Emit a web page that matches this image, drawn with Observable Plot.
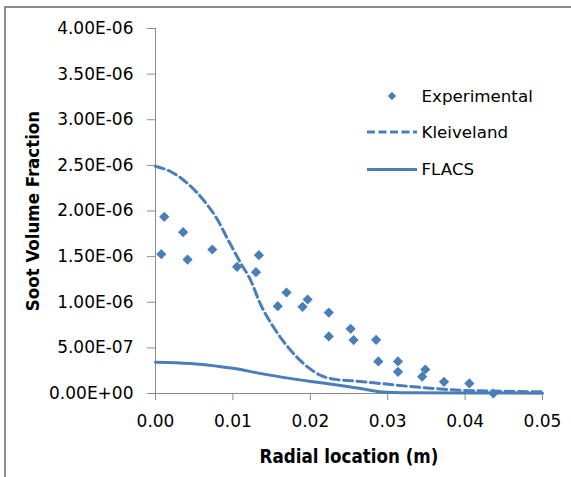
<!DOCTYPE html>
<html>
<head>
<meta charset="utf-8">
<script src="https://cdn.jsdelivr.net/npm/d3@7"></script>
<script src="https://cdn.jsdelivr.net/npm/@observablehq/plot@0.6"></script>
<style>
  html, body { margin: 0; padding: 0; background: #fff; }
  #wrap { position: relative; width: 571px; height: 477px; overflow: hidden; font-family: "DejaVu Sans", sans-serif; }
  #frame { position: absolute; left: 4px; top: 6px; width: 700px; height: 600px; border-left: 2px solid #8c8c8c; border-top: 2px solid #8c8c8c; pointer-events: none; }
  #legend { position: absolute; left: 0; top: 0; pointer-events: none; }
</style>
</head>
<body>
<div id="wrap"><div id="frame"></div></div>
<script>
// Experimental data (radial location m, soot volume fraction)
const expX = [0.00075, 0.00113, 0.00357, 0.00414, 0.00734, 0.01054, 0.01298, 0.01336, 0.0158, 0.01693, 0.0190, 0.01966, 0.02239, 0.02239, 0.02521, 0.02559, 0.0285, 0.02879, 0.03133, 0.03133, 0.03445, 0.03485, 0.03728, 0.04055, 0.04365];
const expY = [1.527e-6, 1.936e-6, 1.768e-6, 1.468e-6, 1.578e-6, 1.388e-6, 1.329e-6, 1.516e-6, 0.957e-6, 1.107e-6, 0.950e-6, 1.030e-6, 0.887e-6, 0.625e-6, 0.709e-6, 0.586e-6, 0.588e-6, 0.352e-6, 0.352e-6, 0.237e-6, 0.184e-6, 0.263e-6, 0.128e-6, 0.110e-6, 0.0];

// Kleiveland model
const kleiX = [0, 0.002, 0.0036, 0.0062, 0.0079, 0.0094, 0.011, 0.0123, 0.0135, 0.0153, 0.0172, 0.0191, 0.0213, 0.0232, 0.0256, 0.029, 0.0325, 0.036, 0.0394, 0.0429, 0.05];
const kleiY = [2.49e-6, 2.43e-6, 2.34e-6, 2.12e-6, 1.92e-6, 1.68e-6, 1.43e-6, 1.24e-6, 0.99e-6, 0.72e-6, 0.50e-6, 0.33e-6, 0.20e-6, 0.155e-6, 0.138e-6, 0.11e-6, 0.08e-6, 0.055e-6, 0.036e-6, 0.028e-6, 0.018e-6];

// FLACS model
const flacsX = [0, 0.0045, 0.0079, 0.011, 0.0131, 0.0161, 0.0196, 0.0239, 0.0265, 0.029, 0.033, 0.04, 0.05];
const flacsY = [0.343e-6, 0.329e-6, 0.300e-6, 0.263e-6, 0.226e-6, 0.182e-6, 0.138e-6, 0.088e-6, 0.055e-6, 0.02e-6, 0.008e-6, 0.005e-6, 0.004e-6];

const xTicks = [0, 0.01, 0.02, 0.03, 0.04, 0.05];
const yTicks = [0, 0.5e-6, 1.0e-6, 1.5e-6, 2.0e-6, 2.5e-6, 3.0e-6, 3.5e-6, 4.0e-6];

const seriesNames = ["Experimental", "Kleiveland", "FLACS"];
const xTitle = "Radial location (m)";
const yTitle = "Soot Volume Fraction";
const blue = "#4a7ebb";

const expData = expX.map((x, i) => ({x, y: expY[i]}));
const kleiData = kleiX.map((x, i) => ({x, y: kleiY[i]}));
const flacsData = flacsX.map((x, i) => ({x, y: flacsY[i]}));

function sci(v) {
  if (v === 0) return "0.00E+00";
  const [m, e] = v.toExponential(2).toUpperCase().split("E");
  const sign = e[0] === "-" ? "-" : "+";
  const digits = e.replace(/[+-]/, "").padStart(2, "0");
  return m + "E" + sign + digits;
}

const titleFont = "'DejaVu Sans Condensed', 'DejaVu Sans', sans-serif";

const chart = Plot.plot({
  width: 571,
  height: 477,
  marginLeft: 155,
  marginRight: 29,
  marginTop: 28,
  marginBottom: 84,
  style: {fontFamily: "DejaVu Sans, sans-serif", fontSize: "17px", color: "#000", background: "transparent"},
  x: {domain: [0, 0.05], ticks: xTicks, tickFormat: d3.format(".2f")},
  y: {domain: [0, 4e-6], ticks: yTicks, tickFormat: sci},
  marks: [
    Plot.axisX({ticks: xTicks, tickFormat: d3.format(".2f"), tickSize: 7, tickPadding: 14, stroke: "#8c8c8c", strokeOpacity: 1, fontSize: 17, fill: "#000", label: null}),
    Plot.axisY({ticks: yTicks, tickFormat: sci, tickSize: 8, tickPadding: 14, stroke: "#8c8c8c", strokeOpacity: 1, fontSize: 17, fill: "#000", label: null}),
    Plot.ruleY([0], {x1: -0.00105, x2: 0.05, stroke: "#8c8c8c", strokeWidth: 1, clip: false}),
    Plot.ruleX([0], {stroke: "#8c8c8c", strokeWidth: 1}),
    Plot.line(kleiData, {x: "x", y: "y", curve: "monotone-x", stroke: blue, strokeWidth: 3, strokeDasharray: "9,4.5"}),
    Plot.line(flacsData, {x: "x", y: "y", curve: "monotone-x", stroke: blue, strokeWidth: 3}),
    Plot.dot(expData, {x: "x", y: "y", symbol: "diamond2", r: 4.6, fill: blue, stroke: "none"}),
    Plot.text([xTitle], {frameAnchor: "bottom", dy: 69, fontWeight: "bold", fontSize: 18.6, fontFamily: titleFont, fill: "#000"}),
    Plot.text([yTitle], {frameAnchor: "left", textAnchor: "middle", rotate: -90, dx: -122, fontWeight: "bold", fontSize: 18.5, fontFamily: titleFont, fill: "#000"})
  ]
});
const wrap = document.getElementById("wrap");
wrap.insertBefore(chart, wrap.firstChild);

// Legend overlay
const ns = "http://www.w3.org/2000/svg";
const leg = d3.select(wrap).append("svg").attr("id", "legend").attr("width", 571).attr("height", 477)
  .attr("xmlns", ns).style("font-family", "DejaVu Sans, sans-serif");
const rows = [
  {name: seriesNames[0], y: 96, kind: "dot"},
  {name: seriesNames[1], y: 132, kind: "dash"},
  {name: seriesNames[2], y: 169.5, kind: "solid"}
];
rows.forEach(r => {
  if (r.kind === "dot") {
    leg.append("path").attr("d", d3.symbol(d3.symbolDiamond2, 44)()).attr("transform", `translate(392,${r.y})`).attr("fill", blue);
  } else {
    leg.append("line").attr("x1", 367).attr("x2", 417).attr("y1", r.y).attr("y2", r.y)
      .attr("stroke", blue).attr("stroke-width", 3)
      .attr("stroke-dasharray", r.kind === "dash" ? "8,3.5" : null);
  }
  leg.append("text").attr("x", 421.5).attr("y", r.y).attr("dy", "0.35em")
    .attr("font-size", 16.7).attr("fill", "#000").text(r.name);
});
</script>
</body>
</html>
